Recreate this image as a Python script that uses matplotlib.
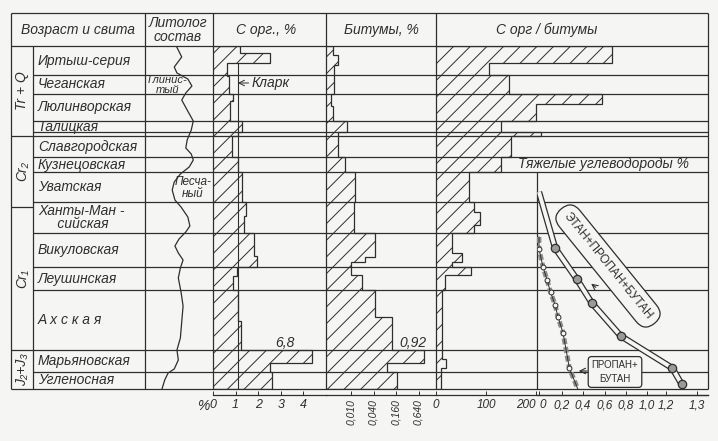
import numpy as np
import matplotlib.pyplot as plt

# --- section: depth runs 0 (top) .. 343 (bottom), relative thickness of layers
svita = ['Иртыш-серия', 'Чеганская', 'Люлинворская', 'Талицкая', '',
         'Славгородская', 'Кузнецовская', 'Уватская', 'Ханты-Ман -\n     сийская',
         'Викуловская', 'Леушинская', 'А х с к а я', 'Марьяновская', 'Угленосная']
svita_edges = [0, 29, 48, 75, 86, 90, 111, 126, 156, 187, 221, 244, 304, 326, 343]
age = ['Tr + Q', 'Cr₂', 'Cr₁', 'J₂+J₃']
age_edges = [0, 90, 161, 304, 343]

# lithology curve (fraction of column width) vs depth
litho_x = [0.46, 0.54, 0.43, 0.47, 0.63, 0.69, 0.60, 0.54, 0.62, 0.71, 0.68, 0.62,
           0.60, 0.68, 0.71, 0.65, 0.52, 0.43, 0.40, 0.44, 0.53, 0.63, 0.66, 0.60,
           0.50, 0.44, 0.49, 0.56, 0.52, 0.49, 0.53, 0.56, 0.54, 0.52, 0.47, 0.49,
           0.43, 0.34, 0.29, 0.25]
litho_depth = [0, 11, 21, 27, 33, 40, 47, 54, 64, 75, 84, 94, 102, 108, 114, 121,
               128, 136, 144, 154, 161, 171, 180, 186, 193, 200, 207, 214, 222, 232,
               246, 260, 276, 292, 304, 314, 323, 327, 334, 343]

# C org, %
corg_edges = [0, 7, 17, 30, 48, 55, 75, 86, 90, 111, 126, 156, 170, 187, 210, 221,
              230, 244, 275, 304, 317, 326, 343]
corg = [1.2, 2.5, 0.6, 0.7, 0.9, 0.75, 1.3, 1.1, 0.85, 1.1, 1.3, 1.45, 1.35, 1.8,
        1.95, 1.05, 0.9, 1.1, 1.25, 6.8, 2.5, 2.6]
corg_cut = 4.4      # bars above this are drawn broken
clark = 1.1

# bitumens, %
bit_edges = [0, 9, 19, 48, 60, 75, 86, 90, 111, 126, 156, 187, 211, 216, 229, 244,
             271, 304, 317, 326, 343]
bit = [0.0033, 0.0045, 0.0035, 0.0029, 0.0033, 0.0078, 0.0045, 0.0045, 0.0069,
       0.0128, 0.012, 0.044, 0.024, 0.0097, 0.0197, 0.044, 0.125, 0.92, 0.092, 0.17]

# C org / bitumens
rat_edges = [0, 17, 29, 48, 58, 75, 86, 90, 111, 126, 156, 166, 179, 187, 207, 216,
             221, 229, 244, 304, 313, 322, 343]
rat = [352, 106, 146, 332, 200, 130, 210, 150, 130, 66, 76, 88, 76, 32, 52, 32, 70,
       18, 12, 12, 20, 10]

# heavy hydrocarbons, %
c234 = [0.0, 0.14, 0.34, 0.48, 0.75, 1.22, 1.25]
c234_depth = [146, 202, 233, 257, 290, 322, 338]
c34 = [0.0, 0.0, 0.035, 0.07, 0.10, 0.14, 0.165, 0.21, 0.27, 0.35]
c34_depth = [191, 203, 221, 234, 246, 259, 271, 287, 322, 343]
gas_ticks = [0, 0.2, 0.4, 0.6, 0.8, 1.0, 1.2, 1.3]

W, H = 718, 441
TOP, BOT = 46, 389
ink = '#2e2e2e'
paper = '#f5f5f3'
plt.rcParams['font.family'] = ['Liberation Sans', 'DejaVu Sans']
plt.rcParams['font.style'] = 'italic'
plt.rcParams['hatch.linewidth'] = 0.7
plt.rcParams['hatch.color'] = ink

fig = plt.figure(figsize=(W / 100, H / 100), dpi=100, facecolor=paper)
dmax = svita_edges[-1]


def col_axes(x0, x1, z=1):
    ax = fig.add_axes([x0 / W, 1 - BOT / H, (x1 - x0) / W, (BOT - TOP) / H], zorder=z)
    ax.set_facecolor('none')
    ax.set_ylim(dmax, 0)
    for s in ['top', 'left', 'right']:
        ax.spines[s].set_visible(False)
    ax.spines['bottom'].set_position(('outward', 4.3))
    ax.spines['bottom'].set_color(ink)
    ax.spines['bottom'].set_linewidth(0.9)
    ax.tick_params(axis='x', direction='in', length=3, width=0.7, color=ink,
                   pad=3, labelsize=9, labelcolor=ink)
    ax.set_yticks([])
    return ax


def bars(ax, vals, edges, base):
    ax.stairs(vals, edges, orientation='horizontal', baseline=base, fill=True,
              hatch='//', facecolor='none', edgecolor=ink, lw=0.9)


# lithology
ax0 = fig.add_axes([145 / W, 1 - BOT / H, 68 / W, (BOT - TOP) / H])
ax0.set_xlim(0, 1)
ax0.set_ylim(dmax, 0)
ax0.axis('off')
ax0.plot(litho_x, litho_depth, color=ink, lw=0.9)

# C org
ax1 = col_axes(213, 326)
ax1.set_xlim(0, 5)
bars(ax1, np.minimum(corg, corg_cut), corg_edges, 0)
ax1.vlines(clark, 17, dmax, color=ink, lw=0.8)
ax1.annotate('Кларк', xy=(clark, 37), xytext=(1.7, 37), va='center', ha='left',
             fontsize=10, color=ink,
             arrowprops=dict(arrowstyle='->', lw=0.7, color=ink, shrinkA=0, shrinkB=0))
ax1.text(3.2, 297, '6,8', ha='center', va='center', fontsize=10, color=ink)
ax1.set_xticks([0, 1, 2, 3, 4])

# bitumens
ax2 = col_axes(326, 436)
ax2.set_xscale('log')
ax2.set_xlim(0.00214, 1.88)
bars(ax2, bit, bit_edges, 0.00214)
ax2.set_xticks([0.01, 0.04, 0.16, 0.64])
ax2.set_xticklabels(['0,010', '0,040', '0,160', '0,640'], rotation=90, fontsize=7.5)
ax2.minorticks_off()
ax2.text(0.45, 297, '0,92', ha='center', va='center', fontsize=10, color=ink)

# C org / bitumens
ax3 = col_axes(436, 708)
ax3.set_xlim(0, 544)
bars(ax3, rat, rat_edges, 0)
ax3.set_xticks([0, 100, 200])
ax3.set_xticklabels(['0', '100', '200'], fontsize=8.5)
ax3.get_xticklabels()[2].set_ha('right')

# heavy hydrocarbons (uneven printed scale)
gv = [-0.2, 0, 0.2, 0.4, 0.6, 0.8, 1.0, 1.2, 1.3, 1.5]
gp = [517, 539, 562, 583, 605, 626, 647, 666, 697, 759]


def g_fwd(v):
    return np.interp(v, gv, gp)


def g_inv(p):
    return np.interp(p, gp, gv)


ax4 = col_axes(537, 708, z=4)
ax4.set_xscale('function', functions=(g_fwd, g_inv))
ax4.set_xlim(g_inv(537), g_inv(708))
ax4.plot(c234, c234_depth, color=ink, lw=4.6, solid_capstyle='butt')
ax4.plot(c234, c234_depth, color=paper, lw=2.8, solid_capstyle='butt')
ax4.plot(c234[1:], c234_depth[1:], 'o', ms=6, mfc='#9a9a9a', mec=ink, mew=0.9)
ax4.plot(c34, c34_depth, color='#8c8c8c', lw=3.5, dashes=(1.2, 0.6))
ax4.plot(c34, c34_depth, color=ink, lw=0.7)
ax4.plot(c34[1:-1], c34_depth[1:-1], 'o', ms=3.5, mfc=paper, mec=ink, mew=0.7)
ax4.set_xticks(gas_ticks)
ax4.set_xticklabels(['0', '0,2', '0,4', '0,6', '0,8', '1,0', '1,2', '1,3'], fontsize=8.5)
ax4.get_xticklabels()[0].set_ha('left')

# table, headings and labels (pixel layout)
bg = fig.add_axes([0, 0, 1, 1], zorder=3)
bg.set_xlim(0, W)
bg.set_ylim(H, 0)
bg.axis('off')
lk = dict(color=ink, lw=0.9)
bg.hlines([13, TOP, BOT], 11, 708, **lk)
bg.vlines([11, 145, 213, 326, 436, 708], 13, BOT, **lk)
bg.vlines(33, TOP, BOT, **lk)
bg.vlines(537, TOP + svita_edges[7], BOT, **lk)
bg.hlines([TOP + d for d in svita_edges[1:-1]], 33, 708, **lk)
bg.hlines([TOP + d for d in age_edges[1:-1]], 11, 33, **lk)

for name, a, b in zip(svita, svita_edges[:-1], svita_edges[1:]):
    bg.text(38, TOP + (a + b) / 2, name, ha='left', va='center', fontsize=10,
            color=ink, linespacing=0.95)
for name, a, b in zip(age, age_edges[:-1], age_edges[1:]):
    bg.text(22, TOP + (a + b) / 2, name, ha='center', va='center', fontsize=10,
            color=ink, rotation=90)

hk = dict(ha='center', va='center', fontsize=10, color=ink)
bg.text(78, 30, 'Возраст и свита', **hk)
bg.text(178, 30, 'Литолог\nсостав', linespacing=1.0, **hk)
bg.text(266, 30, 'С орг., %', **hk)
bg.text(381, 30, 'Битумы, %', **hk)
bg.text(547, 30, 'С орг / битумы', **hk)
bg.text(168, 85, 'Глинис-\nтый', ha='center', va='center', fontsize=8, color=ink,
        linespacing=0.9)
bg.text(193, 188, 'Песча-\nный', ha='center', va='center', fontsize=8.5, color=ink,
        linespacing=0.9)
bg.text(203, 406, '%', ha='center', va='center', fontsize=10, color=ink)
bg.text(604, TOP + 118, 'Тяжелые углеводороды %', ha='center', va='center',
        fontsize=10, color=ink)

bx = dict(boxstyle='round,pad=0.6,rounding_size=1.1', fc=paper, ec=ink, lw=0.9)
bg.text(608, 266, 'ЭТАН+ПРОПАН+БУТАН', rotation=-51, ha='center', va='center',
        fontsize=8.5, style='normal', color=ink, bbox=bx, zorder=5)
bg.annotate('', xy=(589, 282), xytext=(598, 289),
            arrowprops=dict(arrowstyle='->', lw=0.8, color=ink))
bg.text(615, 372, 'ПРОПАН+\nБУТАН', ha='center', va='center', fontsize=7,
        style='normal', color=ink, linespacing=1.5,
        bbox=dict(boxstyle='round,pad=0.35', fc=paper, ec=ink, lw=0.9), zorder=5)
bg.annotate('', xy=(576, 371), xytext=(590, 371),
            arrowprops=dict(arrowstyle='->', lw=0.8, color=ink))

fig.savefig('out.png', dpi=100, facecolor=paper)
